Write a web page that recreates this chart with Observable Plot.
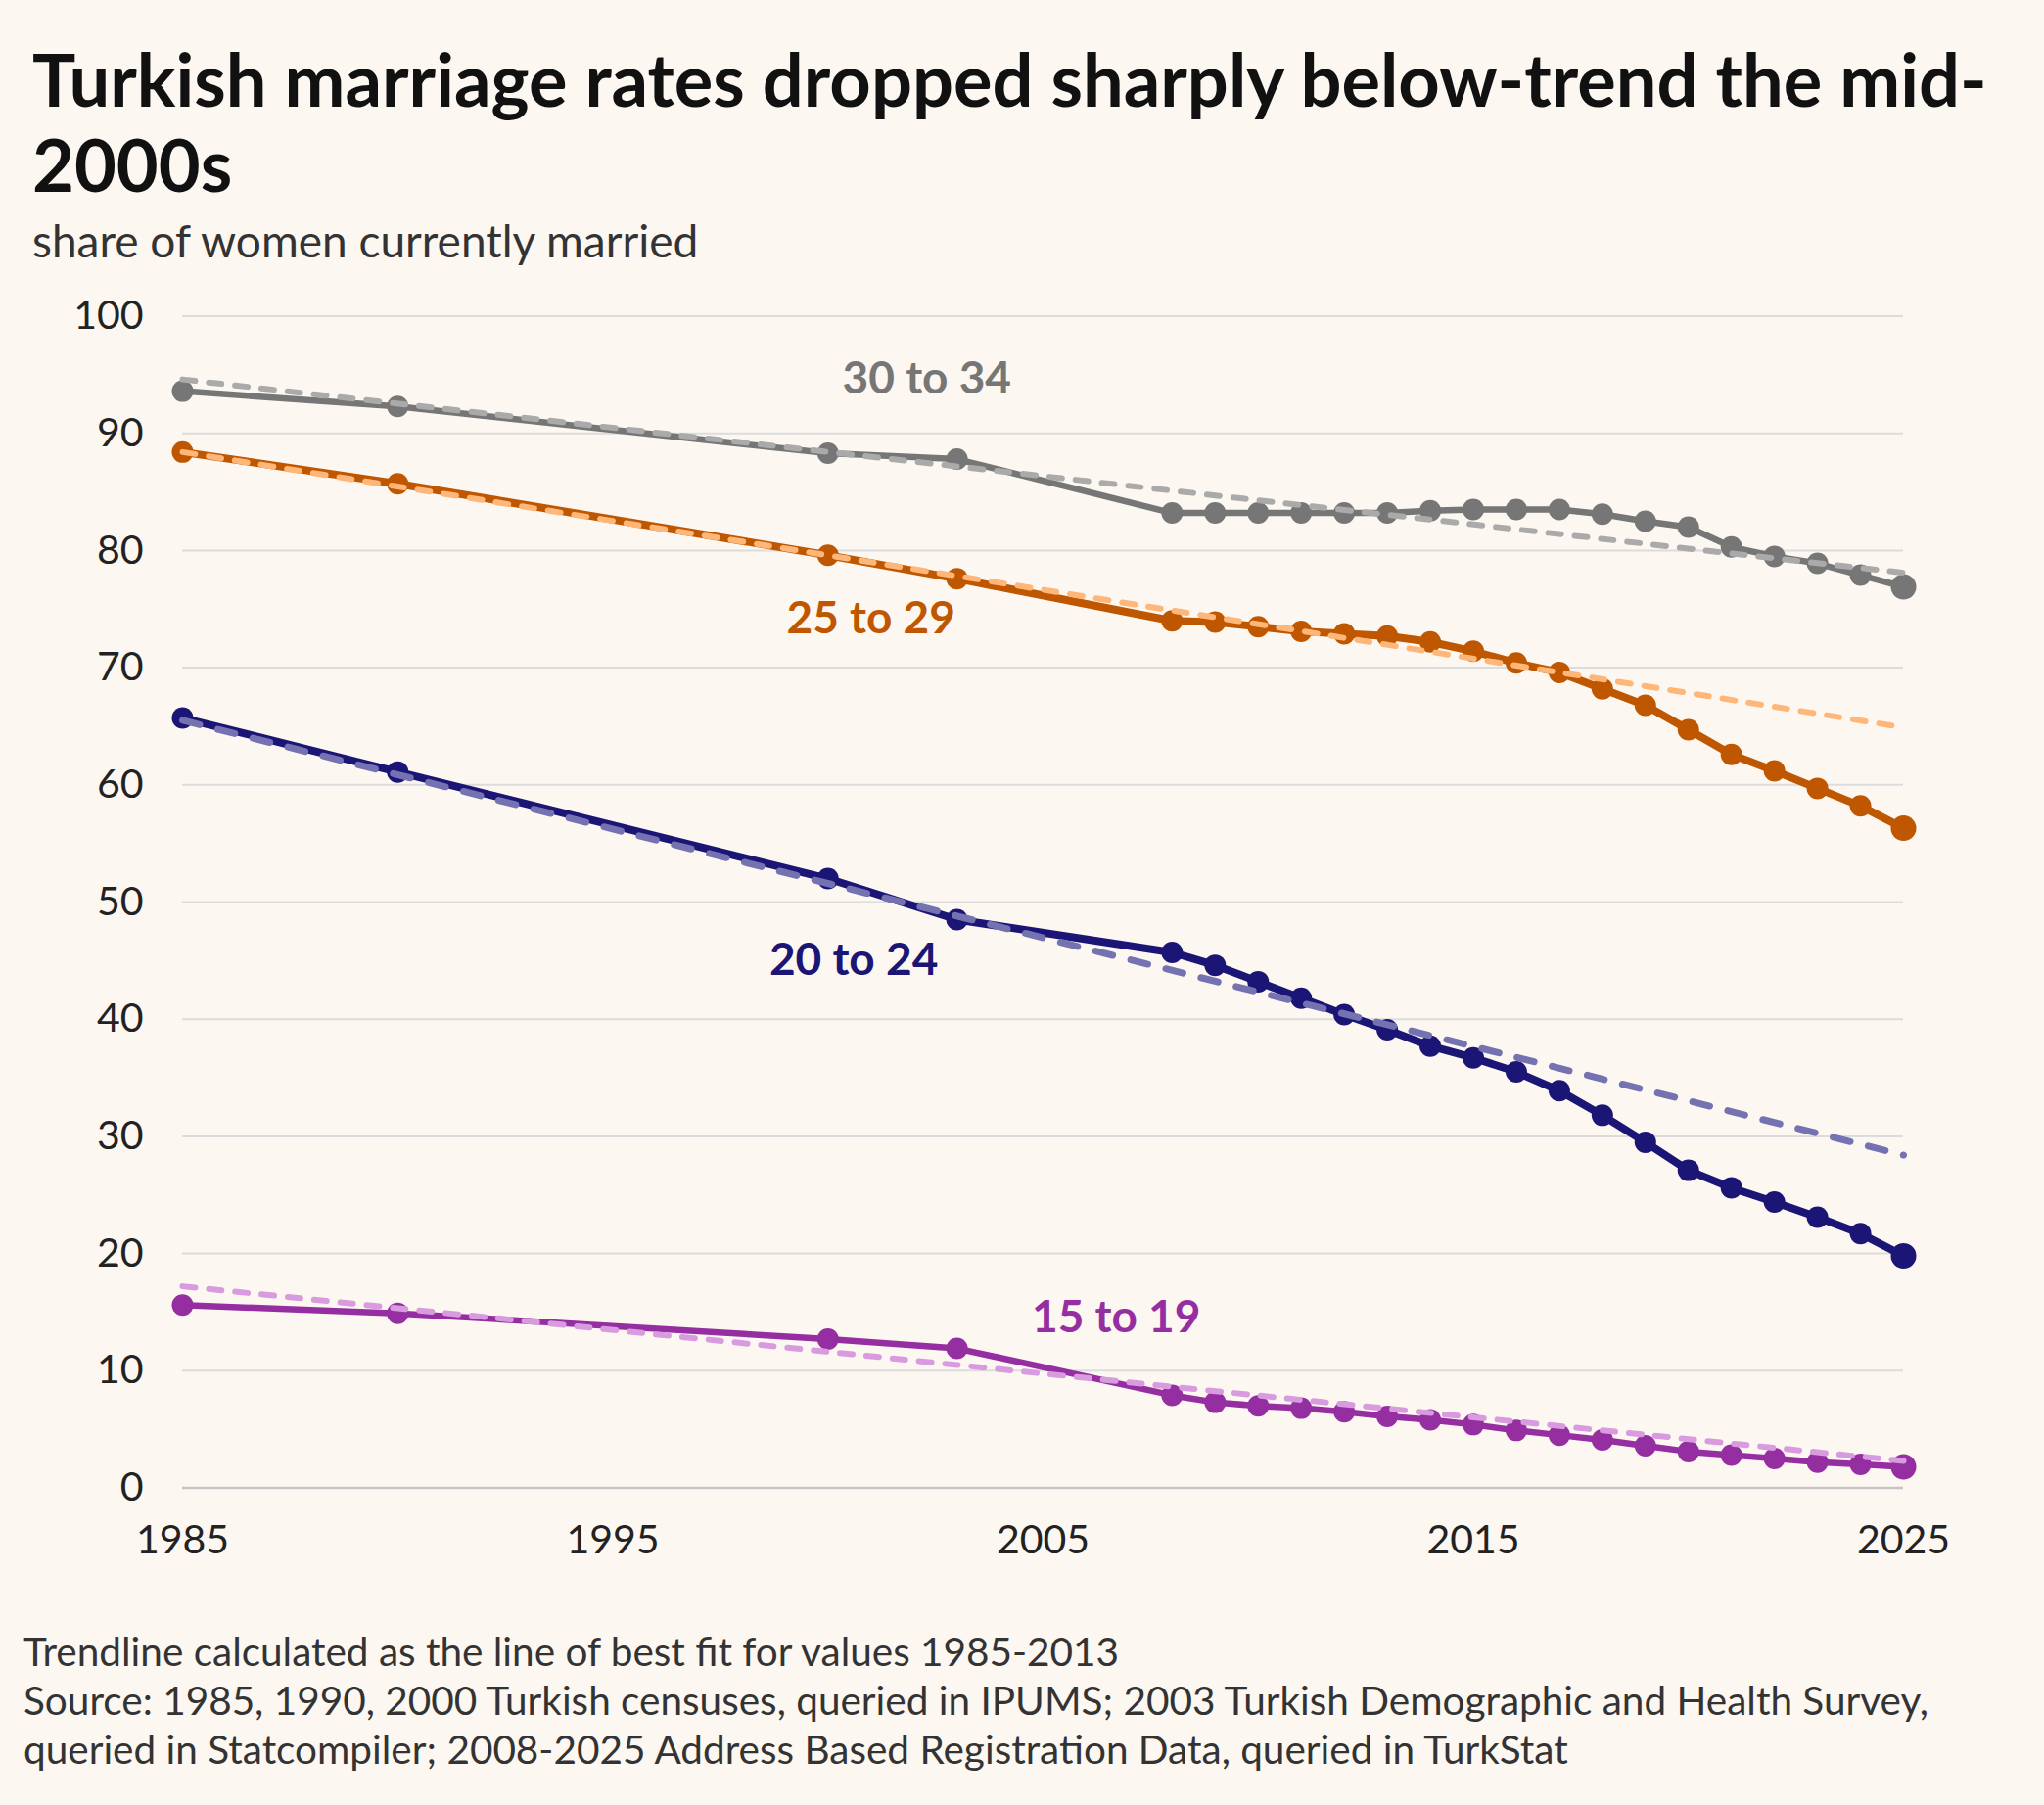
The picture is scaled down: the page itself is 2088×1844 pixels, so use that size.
<!DOCTYPE html>
<html><head><meta charset="utf-8">
<script src="https://cdn.jsdelivr.net/npm/d3@7"></script>
<script src="https://cdn.jsdelivr.net/npm/@observablehq/plot@0.6"></script>
<style>
html,body{margin:0;padding:0;background:#fdf7f2;}
body{width:2088px;font-family:Lato, sans-serif;color:#111;}
#head{height:290px;box-sizing:border-box;padding:37px 0 0 33px;}
h1{margin:0;font-size:74px;line-height:87px;font-weight:700;color:#111;}
.sub{margin:9px 0 0 0;font-size:46px;line-height:52px;color:#333;}
#chart svg{display:block;}
#cap{margin:52px 0 0 24px;font-size:40.5px;line-height:50px;color:#333;}
</style></head>
<body>
<div id="head"><h1>Turkish marriage rates dropped sharply below-trend the mid-<br>2000s</h1><div class="sub">share of women currently married</div></div>
<div id="chart"></div>
<div id="cap">Trendline calculated as the line of best fit for values 1985-2013<br>Source: 1985, 1990, 2000 Turkish censuses, queried in IPUMS; 2003 Turkish Demographic and Health Survey,<br>queried in Statcompiler; 2008-2025 Address Based Registration Data, queried in TurkStat</div>
<script>
const years = [1985,1990,2000,2003,2008,2009,2010,2011,2012,2013,2014,2015,2016,2017,2018,2019,2020,2021,2022,2023,2024,2025];
const age30_34 = [93.6,92.3,88.3,87.8,83.2,83.2,83.2,83.2,83.2,83.2,83.4,83.5,83.5,83.5,83.1,82.5,82.0,80.3,79.5,78.9,77.9,76.9];
const age25_29 = [88.4,85.7,79.6,77.6,74.0,73.9,73.5,73.1,72.9,72.7,72.2,71.4,70.4,69.6,68.2,66.8,64.7,62.6,61.2,59.7,58.2,56.3];
const age20_24 = [65.7,61.1,52.0,48.5,45.7,44.6,43.2,41.8,40.4,39.1,37.7,36.7,35.5,33.9,31.8,29.5,27.1,25.6,24.4,23.1,21.7,19.8];
const age15_19 = [15.6,14.9,12.7,11.9,7.9,7.3,7.0,6.8,6.5,6.1,5.8,5.4,4.9,4.5,4.1,3.6,3.1,2.8,2.5,2.2,2.0,1.8];

const trendYears = [1985,2025];
const trend30_34 = [94.6,78.1];
const trend25_29 = [88.4,64.9];
const trend20_24 = [65.5,28.4];
const trend15_19 = [17.2,2.3];

const groups = ["30 to 34","25 to 29","20 to 24","15 to 19"];
const labelYear = [2002.3,2001.0,2000.6,2006.7];
const labelValue = [94.6,74.2,45.0,14.5];

const xTicks = [1985,1995,2005,2015,2025];
const yTicks = [0,10,20,30,40,50,60,70,80,90,100];

const lineColors = ["#767676","#bf5700","#1b1675","#952fa1"];
const trendColors = ["#aaaaaa","#ffb679","#7572b1","#d99be0"];
const lineWidths = [6.5,8,8,6.5];
const trendWidths = [6,6,7,6];
const trendDash = ["13,14","13,14","18,19","13,14"];

const series = [age30_34, age25_29, age20_24, age15_19];
const trends = [trend30_34, trend25_29, trend20_24, trend15_19];

const marks = [
  Plot.gridY(yTicks, {stroke:"#dcdcdc", strokeOpacity:1, strokeWidth:2}),
  Plot.ruleY([0], {stroke:"#c4c4c4", strokeWidth:2.5}),
  Plot.axisY({ticks:yTicks, tickSize:0, tickPadding:40, label:null, fontSize:41, fill:"#222"}),
  Plot.axisX({ticks:xTicks, tickSize:0, tickPadding:38, label:null, fontSize:41, fill:"#222", tickFormat:d=>String(d)})
];
series.forEach((vals,i)=>{
  const rows = years.map((y,j)=>({year:y, value:vals[j]}));
  marks.push(Plot.line(rows,{x:"year",y:"value",stroke:lineColors[i],strokeWidth:lineWidths[i],strokeLinejoin:"round"}));
  marks.push(Plot.dot(rows,{x:"year",y:"value",r:11,fill:lineColors[i],stroke:"none"}));
  marks.push(Plot.dot(rows.slice(-1),{x:"year",y:"value",r:13,fill:lineColors[i],stroke:"none"}));
});
trends.forEach((vals,i)=>{
  const rows = trendYears.map((y,j)=>({year:y, value:vals[j]}));
  marks.push(Plot.line(rows,{x:"year",y:"value",stroke:trendColors[i],strokeWidth:trendWidths[i],strokeDasharray:trendDash[i],strokeLinecap:"round"}));
});
const labels = groups.map((g,i)=>({group:g, year:labelYear[i], value:labelValue[i], color:lineColors[i]}));
marks.push(Plot.text(labels,{x:"year",y:"value",text:"group",fill:d=>d.color,fontSize:46,fontWeight:"bold",textAnchor:"middle"}));

const chart = Plot.plot({
  width:2088, height:1320,
  marginLeft:186, marginRight:144, marginTop:32.5, marginBottom:90.5,
  style:{background:"transparent", fontFamily:"Lato, sans-serif", color:"#222", overflow:"visible"},
  x:{domain:[1985,2025]},
  y:{domain:[0,100]},
  marks
});
document.getElementById("chart").appendChild(chart);
</script>
</body></html>
